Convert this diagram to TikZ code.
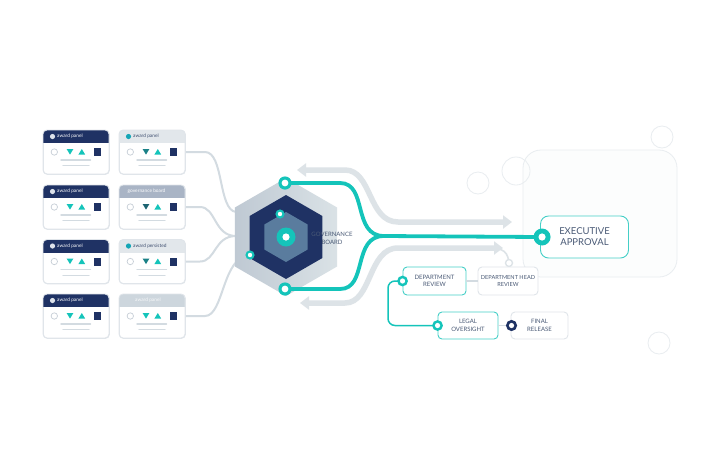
\documentclass[tikz,border=0pt]{standalone}
\usepackage{fontspec}
\setmainfont{Lato}
\usetikzlibrary{arrows.meta}
\definecolor{navy}{HTML}{1F3264}
\definecolor{teal1}{HTML}{14C4BA}
\definecolor{tealbox}{HTML}{45CFC7}
\definecolor{tealdk}{HTML}{1B8187}
\definecolor{tealdk2}{HTML}{1D6472}
\definecolor{lgray}{HTML}{D3DBE1}
\definecolor{agray}{HTML}{DDE3E7}
\definecolor{cborder}{HTML}{E0E5EA}
\definecolor{hlight}{HTML}{E2E7EB}
\definecolor{hblue}{HTML}{A9B4C5}
\definecolor{hpale}{HTML}{CDD6DD}
\definecolor{steel}{HTML}{5A7C9E}
\definecolor{txt}{HTML}{4A5A76}
\definecolor{deco}{HTML}{E9EDF0}
\definecolor{decofill}{HTML}{FCFDFD}
\definecolor{hexl}{HTML}{BFC9D3}
\definecolor{hexr}{HTML}{DAE2E6}
\definecolor{icongray}{HTML}{C7CFD7}
\definecolor{hdrdot}{HTML}{DDE2EA}
\definecolor{hdrtxt}{HTML}{3D4D6E}
\definecolor{tealdot}{HTML}{15A6B6}
\tikzset{
 cardbox/.style={draw=cborder, line width=0.8, rounded corners=4, minimum width=66, minimum height=44, inner sep=0, anchor=north west},
 hdrtext/.style={font=\fontsize{4.8}{5}\selectfont, anchor=west, inner sep=0},
 feed/.style={draw=lgray, line width=2},
 garrow/.style={draw=agray, line width=5.5, {Triangle[width=13pt,length=9pt]}-{Triangle[width=13pt,length=9pt]}},
 tline/.style={draw=teal1, line width=3.8},
 stepbox/.style={draw=tealbox, line width=0.9, rounded corners=4, fill=white, align=center, text=txt, font=\fontsize{6}{7.5}\selectfont, inner sep=1},
 greybox/.style={draw=cborder, line width=0.9, rounded corners=4, fill=white, align=center, text=txt, font=\fontsize{6}{7.5}\selectfont, inner sep=1},
 decoc/.style={draw=deco, line width=0.8},
}
% name, x, y, header fill, text color, dot color, text, downtri color, text x
\newcommand\acard[9]{%
 \node[cardbox, fill=white] (#1) at (#2,#3) {};
 \begin{scope}[shift={(#2,#3)}]
  \begin{scope}
   \clip[rounded corners=4] (0,0) rectangle (66,44);
   \fill[#4] (0,0) rectangle (66,13);
  \end{scope}
  \draw[cborder, line width=0.8, rounded corners=4] (0,0) rectangle (66,44);
  \fill[#6] (9.5,6.5) circle (2.6);
  \node[hdrtext, text=#5] at (#9,6.6) {#7};
  \draw[icongray, line width=0.7] (11.3,22) circle (3.2);
  \fill[#8] (23.6,19) -- (30.4,19) -- (27,24.6) -- cycle;
  \fill[teal1] (35.4,24.6) -- (42.2,24.6) -- (38.8,19) -- cycle;
  \fill[navy] (50.6,18) rectangle (58.4,26);
  \draw[lgray, line width=1.4, line cap=round] (18,30) -- (47.5,30);
  \draw[lgray, line width=1.4, line cap=round] (20,35.7) -- (46,35.7);
 \end{scope}}
\begin{document}
\begin{tikzpicture}[x=1pt,y=-1pt]
\useasboundingbox (0,0) rectangle (707,451);
\fill[white] (0,0) rectangle (707,451);

% decorative background
\draw[decoc, fill=decofill] (523,150) [rounded corners=18] rectangle (677,277);
\draw[decoc] (478,183) circle (11);
\draw[decoc] (516,171) circle (14);
\draw[decoc] (662,137) circle (11);
\draw[decoc] (659,343) circle (11);

% cards
\acard{L1}{43}{130}{navy}{white}{hdrdot}{award panel}{teal1}{14}
\acard{L2}{43}{185}{navy}{white}{hdrdot}{award panel}{teal1}{14}
\acard{L3}{43}{239.5}{navy}{white}{hdrdot}{award panel}{teal1}{14}
\acard{L4}{43}{294}{navy}{white}{hdrdot}{award panel}{teal1}{14}
\acard{R1}{119}{130}{hlight}{hdrtxt}{tealdot}{award panel}{tealdk}{14}
\acard{R2}{119}{185}{hblue}{white}{hblue}{governance board}{tealdk2}{8.5}
\acard{R3}{119}{239.5}{hlight}{hdrtxt}{tealdot}{award persisted}{tealdk}{14}
\acard{R4}{119}{294}{hpale}{white!85!hpale}{hpale}{award panel}{teal1}{16}

% hub coordinates
\coordinate (hub) at (286,237);
\coordinate (h1) at (236,212);
\coordinate (h2) at (236,236);
\coordinate (topring) at (285,183);
\coordinate (botring) at (285,289);
\coordinate (sring1) at (280,214);
\coordinate (sring2) at (250,255);
\coordinate (merge) at (384,236);

% feeds from cards into hub
\draw[feed] (R1.east |- 0,152) -- (205,152) .. controls (224,152) and (218,210) .. (h1);
\draw[feed] (R2.east |- 0,207) -- (200,207) .. controls (216,207) and (214,236) .. (h2);
\draw[feed] (R3.east |- 0,261.5) -- (200,261.5) .. controls (216,261.5) and (214,236) .. (h2);
\draw[feed] (R4.east |- 0,316) -- (205,316) .. controls (224,316) and (222,256) .. (sring2);

% grey arrows
\coordinate (ga1) at (297,170);
\coordinate (ga2) at (512,222);
\coordinate (gb1) at (300,303);
\coordinate (gb2) at (503,248);
\coordinate (gsm) at (509,263);
\draw[garrow] (ga1) -- (345,170) .. controls (372,170) and (368,222) .. (398,222) -- (ga2);
\draw[garrow] (gb1) -- (345,303) .. controls (372,303) and (368,248) .. (398,248) -- (gb2);
\draw[agray, line width=1.6] (488,248) .. controls (503,248) and (509,251) .. ([yshift=-3.5pt]gsm);
\draw[agray, line width=1.4, fill=white] (gsm) circle (3.5);

% hexagon
\shade[left color=hexl, right color=hexr] (hub) +(30:59) -- +(90:59) -- +(150:59) -- +(210:59) -- +(270:59) -- +(330:59) -- cycle;
\fill[navy] (hub) +(30:42) -- +(90:42) -- +(150:42) -- +(210:42) -- +(270:42) -- +(330:42) -- cycle;
\fill[steel] (hub) +(30:25) -- +(90:25) -- +(150:25) -- +(210:25) -- +(270:25) -- +(330:25) -- cycle;

\node[font=\fontsize{6}{8}\selectfont, text=txt, align=center, inner sep=0] (gov) at (332,238.5) {GOVERNANCE\\BOARD};

% decision boxes
\node[stepbox, minimum width=88, minimum height=42, rounded corners=8, font=\fontsize{9.5}{11}\selectfont] (exec) at (584.5,237) {EXECUTIVE\\APPROVAL};
\node[stepbox, minimum width=63, minimum height=28] (dr) at (434.5,281) {DEPARTMENT\\REVIEW};
\node[greybox, minimum width=60, minimum height=28, font=\fontsize{5.6}{7.5}\selectfont] (dh) at (508,281) {DEPARTMENT HEAD\\REVIEW};
\node[stepbox, minimum width=60, minimum height=27] (lo) at (468,325.5) {LEGAL\\OVERSIGHT};
\node[greybox, minimum width=57, minimum height=27] (fr) at (539.5,325.5) {FINAL\\RELEASE};

% teal flow
\draw[tline] (topring) -- (340,183) .. controls (368,183) and (352,236) .. (merge);
\draw[tline] (botring) -- (340,289) .. controls (368,289) and (352,236) .. (merge);
\draw[tline] (merge) -- (exec.west);

\draw[teal1, line width=1.5, rounded corners=7] (dr.west) -- (388,281) -- (388,325.5) -- (lo.west);
\draw[lgray, line width=1.2] (dr.east) -- (dh.west);
\coordinate (frring) at ([xshift=1pt]fr.west);
\draw[lgray, line width=1.2] (lo.east) -- (frring);

% rings
\fill[teal1] (hub) circle (9.5); \fill[white] (hub) circle (3.6);
\fill[teal1] (topring) circle (6.6); \fill[white] (topring) circle (3.4);
\fill[teal1] (botring) circle (6.6); \fill[white] (botring) circle (3.4);
\fill[teal1] (sring1) circle (4.6); \fill[white] (sring1) circle (2.2);
\fill[teal1] (sring2) circle (4.6); \fill[white] (sring2) circle (2.2);
\fill[teal1] ([xshift=2pt]exec.west) circle (8.5); \fill[white] ([xshift=2pt]exec.west) circle (3.6);
\fill[teal1] (dr.west) circle (5.4); \fill[white] (dr.west) circle (2.6);
\fill[teal1] (lo.west) circle (5.4); \fill[white] (lo.west) circle (2.6);
\fill[navy] (frring) circle (5.6); \fill[white] (frring) circle (2.6);
\end{tikzpicture}
\end{document}
